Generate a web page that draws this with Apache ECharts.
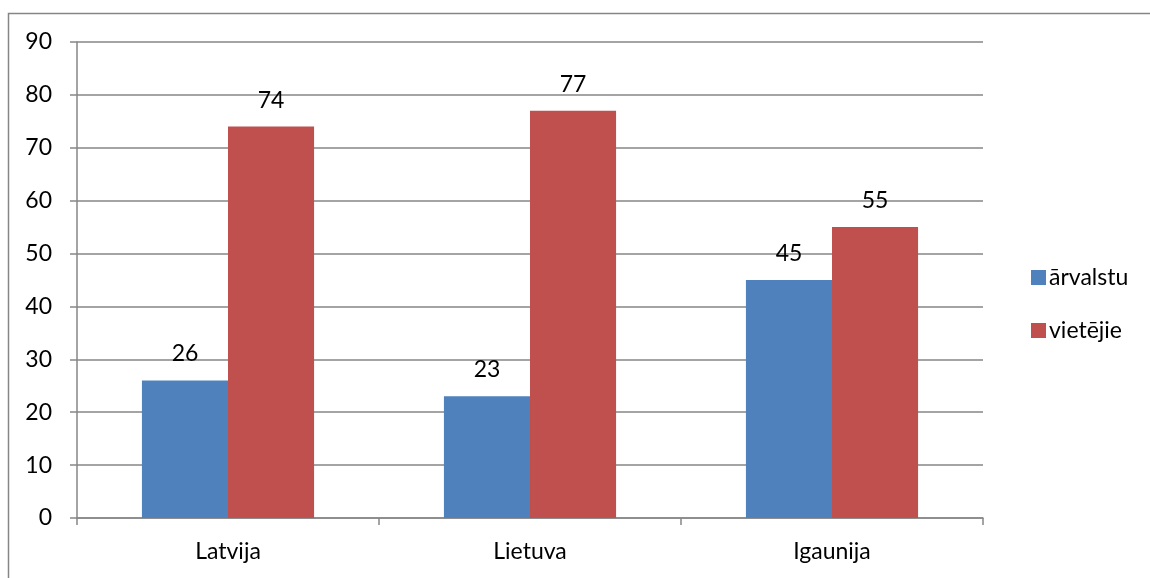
<!DOCTYPE html>
<html>
<head>
<meta charset="utf-8">
<script src="https://cdn.jsdelivr.net/npm/echarts@6/dist/echarts.min.js"></script>
<style>
  html, body { margin: 0; padding: 0; background: #fff; }
  #main { width: 1150px; height: 578px; }
</style>
</head>
<body>
<div id="main"></div>
<script>
// dati
const categories = ['Latvija', 'Lietuva', 'Igaunija'];
const arvalstu = [26, 23, 45];
const vietejie = [74, 77, 55];
const seriesNames = ['ārvalstu', 'vietējie'];

let myChart = echarts.init(document.getElementById('main'));

const font = 'Lato, "Open Sans", sans-serif';
const lineColor = '#868686';
const fs = 23;

let option = {
  color: ['#4F81BD', '#C0504D'],
  textStyle: { fontFamily: font },
  animation: false,
  graphic: [
    {
      type: 'rect',
      shape: { x: 8.5, y: 13.5, width: 1160, height: 600 },
      style: { fill: 'none', stroke: lineColor, lineWidth: 1.5 },
      silent: true
    }
  ],
  legend: {
    orient: 'vertical',
    left: 1026,
    top: 261,
    itemWidth: 15,
    itemHeight: 15,
    itemGap: 30,
    icon: 'rect',
    data: seriesNames,
    textStyle: { fontSize: fs, color: '#000', fontFamily: font, padding: [0, 0, 0, -2] }
  },
  grid: {
    left: 77,
    right: 167,
    top: 42,
    bottom: 60
  },
  xAxis: {
    type: 'category',
    data: categories,
    axisLine: { lineStyle: { color: lineColor, width: 1.5 } },
    axisTick: { show: true, length: 7, lineStyle: { color: lineColor, width: 1.5 } },
    axisLabel: { fontSize: fs, color: '#000', margin: 22, fontFamily: font }
  },
  yAxis: {
    type: 'value',
    min: 0,
    max: 90,
    interval: 10,
    axisLine: { show: true, lineStyle: { color: lineColor, width: 1.5 } },
    axisTick: { show: true, length: 7, lineStyle: { color: lineColor, width: 1.5 } },
    splitLine: { lineStyle: { color: lineColor, width: 1.5 } },
    axisLabel: { fontSize: fs, color: '#000', margin: 25, fontFamily: font }
  },
  series: [
    {
      name: seriesNames[0],
      type: 'bar',
      data: arvalstu,
      barGap: '0%',
      barCategoryGap: '43%',
      label: { show: true, position: 'top', distance: 15, fontSize: fs, color: '#000', fontFamily: font }
    },
    {
      name: seriesNames[1],
      type: 'bar',
      data: vietejie,
      barGap: '0%',
      barCategoryGap: '43%',
      label: { show: true, position: 'top', distance: 15, fontSize: fs, color: '#000', fontFamily: font }
    }
  ]
};

myChart.setOption(option);
</script>
</body>
</html>
